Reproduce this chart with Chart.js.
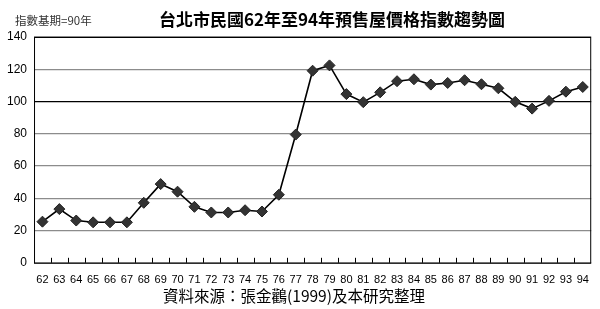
<!DOCTYPE html>
<html>
<head>
<meta charset="utf-8">
<script src="https://cdn.jsdelivr.net/npm/chart.js@4/dist/chart.umd.min.js"></script>
<style>
  html, body { margin: 0; padding: 0; background: #fff; }
  #wrap { width: 600px; height: 309px; position: relative; }
</style>
</head>
<body>
<div id="wrap"><canvas id="myChart"></canvas></div>
<script>
// 民國年份
const years = ['62','63','64','65','66','67','68','69','70','71','72','73','74','75','76','77',
  '78','79','80','81','82','83','84','85','86','87','88','89','90','91','92','93','94']
// 預售屋價格指數 (基期=90年)
const priceIndex = [25.5, 33.3, 26.2, 25.1, 25.1, 25.1, 37.2, 48.8, 44.1, 34.7, 31.2, 31.2, 32.6, 31.8, 42.2, 79.5,
  119.1, 122.4, 104.6, 99.6, 105.7, 112.6, 113.8, 110.5, 111.5, 113.2, 110.7, 108.2, 99.8, 95.6, 100.4, 106.1, 109.0]
const yTicks = [0, 20, 40, 60, 80, 100, 120, 140]

const titleText = '台北市民國62年至94年預售屋價格指數趨勢圖'
const noteText = '指數基期=90年'
const sourceText = '資料來源：張金鸛(1999)及本研究整理'

const fontFamily = '"Liberation Sans", Arial, "Noto Sans CJK TC", sans-serif'
const cjkFamily = '"Noto Sans CJK TC", "Liberation Sans", sans-serif'

// frame, inner tick marks and the texts around the plot
const framePlugin = {
    id: 'frame',
    afterDraw(chart) {
        const {ctx, chartArea: a, scales: {x}} = chart
        ctx.save()
        ctx.strokeStyle = '#000'
        ctx.lineWidth = 1
        ctx.strokeRect(a.left + 0.5, a.top + 0.5, a.right - a.left - 1, a.bottom - a.top)
        const step = (a.right - a.left) / years.length
        ctx.beginPath()
        for (let i = 1; i < years.length; i++) {
            const px = Math.round(x.getPixelForValue(i) - step / 2) + 0.5
            ctx.moveTo(px, a.bottom)
            ctx.lineTo(px, a.bottom - 5)
        }
        ctx.stroke()

        ctx.textBaseline = 'middle'
        ctx.fillStyle = '#333'
        ctx.font = '11.5px ' + cjkFamily
        ctx.textAlign = 'left'
        ctx.fillText(noteText, 15, 21)

        ctx.fillStyle = '#000'
        ctx.textAlign = 'center'
        ctx.font = 'bold 17px ' + cjkFamily
        ctx.fillText(titleText, 332, 20)

        ctx.font = '15.5px ' + cjkFamily
        ctx.fillText(sourceText, 294, 296)
        ctx.restore()
    }
}

const ctx = document.getElementById('myChart').getContext('2d')
const myChart = new Chart(ctx, {
    type: 'line',
    data: {
        labels: years,
        datasets: [{
            label: '預售屋價格指數',
            data: priceIndex,
            borderColor: '#000',
            borderWidth: 1.6,
            tension: 0,
            pointStyle: 'rectRot',
            pointRadius: 5.5,
            pointBackgroundColor: '#333',
            pointBorderColor: '#222',
            pointBorderWidth: 1
        }]
    },
    options: {
        responsive: true,
        maintainAspectRatio: false,
        animation: false,
        layout: { padding: { left: 0, right: 7, top: 37, bottom: 11 } },
        plugins: {
            legend: { display: false },
            tooltip: { enabled: false },
            title: { display: false }
        },
        scales: {
            x: {
                offset: true,
                grid: { display: false, drawTicks: false },
                border: { display: false },
                ticks: {
                    color: '#000',
                    font: { family: fontFamily, size: 11 },
                    padding: 11,
                    maxRotation: 0,
                    autoSkip: false
                }
            },
            y: {
                min: 0,
                max: 140,
                afterBuildTicks(scale) {
                    scale.ticks = yTicks.map(v => ({ value: v }))
                },
                grid: {
                    drawTicks: false,
                    color: c => c.tick && c.tick.value === 100 ? '#000' : '#8c8c8c',
                    lineWidth: 1.2
                },
                border: { display: false },
                ticks: {
                    color: '#000',
                    font: { family: fontFamily, size: 12 },
                    padding: 7
                }
            }
        }
    },
    plugins: [framePlugin]
})
</script>
</body>
</html>
